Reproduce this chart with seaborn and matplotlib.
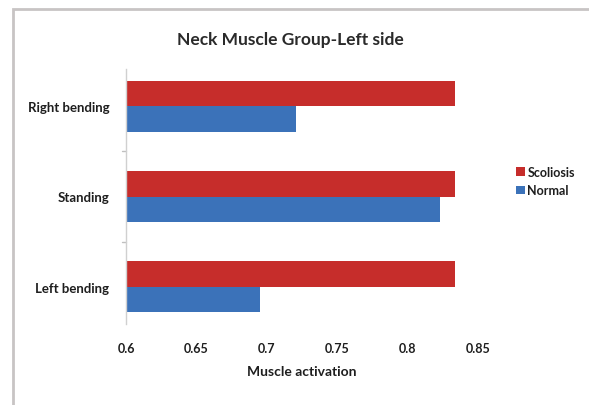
import matplotlib
matplotlib.use("Agg")
import matplotlib.pyplot as plt
import seaborn as sns
import pandas as pd
from matplotlib.patches import Rectangle

# Mean muscle activation of the left-side neck muscle group
postures = ["Right bending", "Standing", "Left bending"]
groups = ["Scoliosis", "Normal"]
scoliosis = [0.834, 0.834, 0.834]
normal = [0.721, 0.823, 0.695]
x_ticks = [0.6, 0.65, 0.7, 0.75, 0.8, 0.85]
x_tick_labels = ["0.6", "0.65", "0.7", "0.75", "0.8", "0.85"]

df = pd.DataFrame({
    "Posture": postures * 2,
    "Group": ["Scoliosis"] * 3 + ["Normal"] * 3,
    "Activation": scoliosis + normal,
})

sns.set_theme(style="white")
plt.rcParams["font.family"] = ["Lato", "DejaVu Sans"]

fig = plt.figure(figsize=(5.89, 4.06), dpi=100)
fig.patch.set_facecolor("white")

# chart-area frame
fig.add_artist(Rectangle((13 / 589, -0.05), 1.1, 1 - 10 / 406 + 0.05,
                         transform=fig.transFigure, fill=False,
                         edgecolor="#c8c4c4", linewidth=2.0))

ax = fig.add_axes([126 / 589, 1 - 325 / 406, (478 - 126) / 589, (325 - 70) / 406])
palette = {"Scoliosis": "#c62d2b", "Normal": "#3b72b9"}
sns.barplot(data=df, y="Posture", x="Activation", hue="Group",
            order=postures, hue_order=groups, palette=palette,
            orient="h", width=0.57, gap=0, saturation=1, ax=ax,
            edgecolor="none", linewidth=0, legend=True)

text_color = "#1e1e1e"
ax.set_xlim(0.6, 0.85)
ax.set_xticks(x_ticks)
ax.set_xticklabels(x_tick_labels, fontsize=9, fontweight="bold", color=text_color)
ax.set_yticks(range(len(postures)))
ax.set_yticklabels(postures, fontsize=9.5, fontweight="bold", color=text_color)
ax.tick_params(axis="y", length=0, pad=12)
ax.tick_params(axis="x", length=0, pad=13)

for s in ["top", "right", "bottom"]:
    ax.spines[s].set_visible(False)
ax.spines["left"].set_color("#d0d0d0")
ax.spines["left"].set_linewidth(1.0)

# category boundary ticks on the value axis
for yb in [0.5, 1.5]:
    ax.plot([-0.012, 0], [yb, yb], transform=ax.get_yaxis_transform(),
            color="#c0c0c0", lw=1, clip_on=False)

ax.set_ylabel("")
ax.set_xlabel("Muscle activation", fontsize=10, fontweight="bold",
              color=text_color, labelpad=8)

fig.text(290 / 589, 1 - 40 / 406, "Neck Muscle Group-Left side",
         ha="center", va="center", fontsize=12.5, fontweight="bold", color="#2a2a2a")

leg = ax.legend(loc="center left", bbox_to_anchor=(505 / 589, 1 - 182 / 406),
                bbox_transform=fig.transFigure, frameon=False,
                fontsize=9, handlelength=0.7, handleheight=0.7,
                handletextpad=0.2, labelspacing=0.55)
for t in leg.get_texts():
    t.set_fontweight("bold")
    t.set_color(text_color)

fig.savefig("out.png", dpi=100)
